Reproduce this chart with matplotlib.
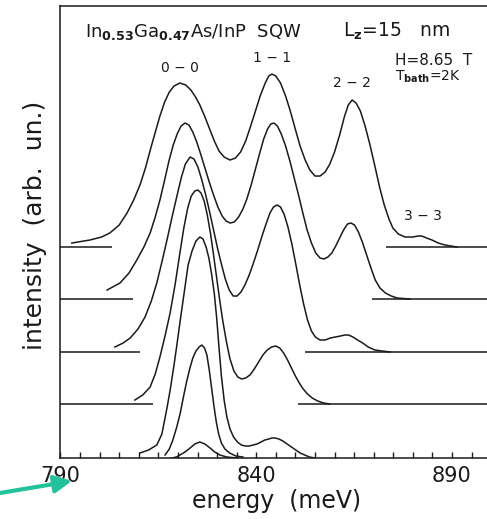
import numpy as np
import matplotlib
matplotlib.use('Agg')
import matplotlib.pyplot as plt

plt.rcParams['font.family'] = 'DejaVu Sans'
plt.rcParams['mathtext.fontset'] = 'custom'
plt.rcParams['mathtext.rm'] = 'DejaVu Sans'
plt.rcParams['mathtext.bf'] = 'DejaVu Sans:bold'

# spectra, top to bottom: energy (meV) and intensity above own baseline (arb.)
E1 = [792.9, 797.5, 800.5, 802.6, 805.0, 807.0, 808.7, 810.3, 811.7, 813.0, 814.3, 815.4,
      816.6, 817.8, 819.0, 820.5, 822.0, 823.3, 824.5, 825.6, 826.8, 828.0, 829.3, 830.5,
      831.8, 833.3, 834.7, 836.0, 837.3, 838.5, 839.8, 841.0, 842.3, 843.2, 844.0, 845.0,
      846.2, 847.5, 848.7, 849.9, 851.2, 852.5, 853.7, 855.0, 856.3, 857.6, 858.8, 860.0,
      861.3, 862.5, 863.5, 864.5, 865.5, 866.6, 867.8, 869.0, 870.3, 871.5, 872.7, 873.9,
      874.9, 876.3, 878.0, 880.0, 881.3, 882.3, 883.5, 884.9, 886.5, 888.2, 891.3]
H1 = [4, 7, 10, 14, 22, 34, 47, 62, 79, 98, 116, 131,
      145, 155, 161, 164, 162, 157, 150, 142, 131, 119, 106, 96,
      90, 87, 89, 95, 106, 120, 136, 151, 164, 171, 173, 171,
      164, 151, 136, 119, 101, 87, 77, 71, 71, 75, 83, 95,
      112, 130, 142, 147, 144, 136, 121, 103, 81, 60, 42, 28,
      19, 13, 10, 10, 11, 11, 9, 7, 4, 2, 0]

E2 = [801.9, 805.2, 807.5, 809.5, 811.3, 812.9, 814.2, 815.4, 816.6, 817.7, 818.8, 819.8,
      820.8, 821.8, 822.8, 823.8, 824.8, 825.8, 826.9, 828.0, 829.1, 830.2, 831.3, 832.3,
      833.3, 834.4, 835.5, 836.6, 837.6, 838.7, 839.8, 840.9, 841.9, 842.9, 843.7, 844.5,
      845.4, 846.4, 847.5, 848.6, 849.7, 850.8, 851.9, 853.0, 854.1, 855.2, 856.3, 857.3,
      858.3, 859.3, 860.3, 861.3, 862.3, 863.3, 864.2, 865.1, 866.1, 867.1, 868.2, 869.3,
      870.4, 871.6, 873.0, 874.5, 876.0, 879.3]
H2 = [9, 16, 26, 39, 52, 66, 82, 99, 119, 138, 154, 165,
      173, 176, 174, 167, 157, 145, 131, 117, 104, 92, 83, 78,
      76, 77, 82, 90, 100, 114, 130, 146, 160, 170, 175, 176,
      173, 165, 153, 138, 121, 104, 86, 69, 56, 46, 41, 40,
      42, 46, 53, 61, 69, 75, 76, 74, 67, 57, 44, 31,
      19, 11, 6, 3, 1, 0]

E3 = [803.9, 806.0, 807.8, 809.8, 811.6, 813.2, 814.6, 815.9, 817.2, 818.5, 819.8, 820.9,
      821.9, 823.1, 824.1, 825.1, 826.1, 827.1, 828.1, 829.1, 830.1, 831.1, 832.1, 833.1,
      834.1, 835.1, 836.1, 837.1, 838.1, 839.2, 840.3, 841.4, 842.5, 843.5, 844.4, 845.3,
      846.2, 847.1, 848.1, 849.1, 850.1, 851.1, 852.1, 853.1, 854.1, 855.1, 856.3, 857.6,
      858.9, 860.2, 861.5, 862.6, 863.6, 864.7, 865.9, 867.2, 868.6, 870.3, 872.2, 874.2]
H3 = [5, 9, 14, 23, 35, 51, 69, 90, 112, 135, 157, 175,
      188, 195, 193, 185, 172, 157, 140, 122, 104, 88, 73, 62,
      56, 56, 60, 67, 76, 88, 101, 115, 128, 139, 145, 147,
      145, 138, 125, 108, 88, 67, 48, 32, 21, 15, 12, 12,
      14, 15, 16, 17, 17, 15, 12, 9, 5, 2, 1, 0]

E4 = [809.0, 811.0, 812.9, 814.2, 815.4, 816.7, 818.0, 819.3, 820.5, 821.5, 822.5, 823.4,
      824.3, 825.1, 825.9, 826.7, 827.5, 828.3, 829.1, 829.9, 830.7, 831.5, 832.4, 833.3,
      834.3, 835.3, 836.3, 837.3, 838.4, 839.5, 840.6, 841.7, 842.8, 843.9, 845.0, 846.0,
      847.0, 848.0, 849.0, 850.0, 851.0, 852.0, 853.1, 854.3, 855.7, 857.2, 858.8]
H4 = [4, 9, 17, 30, 47, 68, 91, 120, 151, 176, 196, 208,
      213, 214, 211, 203, 189, 171, 149, 126, 103, 82, 62, 45,
      33, 27, 25, 26, 29, 35, 42, 49, 54, 57, 58, 56,
      51, 44, 36, 28, 21, 15, 10, 6, 3, 1, 0]

E5 = [810.3, 812.5, 814.6, 815.9, 817.2, 818.1, 819.0, 819.8, 820.6, 821.4, 821.8, 822.6,
      823.6, 824.6, 825.6, 826.4, 827.2, 827.9, 828.6, 829.3, 829.9, 830.5, 831.1, 831.8,
      832.5, 833.3, 834.2, 835.2, 836.2, 837.2, 838.2, 839.2, 840.2, 841.2, 842.2, 843.2,
      844.0, 844.8, 845.8, 846.8, 847.9, 849.0, 850.1, 851.2, 852.4, 853.6, 855.0]
H5 = [5, 8, 13, 24, 50, 70, 93, 115, 138, 160, 171, 193,
      207, 217, 221, 219, 211, 200, 184, 164, 140, 110, 82, 58,
      41, 29, 21, 16, 13, 12, 12, 13, 14, 16, 18, 19,
      20, 20, 19, 17, 14, 11, 8, 5, 3, 1, 0]

E6 = [816.7, 817.8, 818.7, 819.7, 820.6, 821.4, 822.2, 823.0, 823.8, 824.6, 825.4, 826.1,
      826.8, 827.4, 828.0, 828.6, 829.2, 829.8, 830.4, 831.1, 832.0, 833.2, 834.8, 836.6]
H6 = [3, 9, 18, 31, 45, 61, 76, 89, 100, 107, 111, 113,
      110, 103, 88, 70, 52, 36, 24, 15, 9, 5, 2, 1]

E7 = [818.5, 819.6, 820.5, 821.8, 823.1, 824.3, 825.6, 826.9, 828.2, 829.4, 830.7, 832.5, 835.1]
H7 = [0, 1, 3, 6, 10, 14, 16, 14, 10, 6, 3, 1, 0]

offsets = [211, 159, 106, 54, 0, 0, 0]

# baseline segments for the four shifted spectra
base_left_end = [803.2, 808.5, 810.3, 813.6]
base_right_start = [873.1, 869.6, 852.4, 850.7]

peak_labels = ['0 − 0', '1 − 1', '2 − 2', '3 − 3']
peak_label_x = [820.5, 844.0, 864.5, 882.6]
peak_label_y = [386, 396, 371, 238]

ink = '#1a1a1a'

fig = plt.figure(figsize=(4.87, 5.19), dpi=100)
ax = fig.add_axes([0.1242, 0.1175, 0.9245, 0.8709])

curves = [(E1, H1), (E2, H2), (E3, H3), (E4, H4), (E5, H5), (E6, H6), (E7, H7)]
for (e, h), off in zip(curves, offsets):
    ax.plot(e, np.array(h) + off, color=ink, lw=1.1)

for off, le, rs in zip(offsets[:4], base_left_end, base_right_start):
    ax.hlines(off, 790, le, color=ink, lw=1.1)
    ax.hlines(off, rs, 905, color=ink, lw=1.1)

for lab, x, y in zip(peak_labels, peak_label_x, peak_label_y):
    ax.text(x, y, lab, ha='center', va='baseline', fontsize=10, color=ink)

ax.text(796.3, 421, r'In$_{\mathbf{0.53}}$Ga$_{\mathbf{0.47}}$As/InP  SQW',
        fontsize=13, color=ink, va='baseline')
ax.text(862.1, 421, r'L$_{\mathbf{z}}$=15   nm', fontsize=13.5, color=ink, va='baseline')
ax.text(875.4, 393, 'H=8.65  T', fontsize=11, color=ink, va='baseline')
ax.text(875.4, 377, r'T$_{\mathbf{bath}}$=2K', fontsize=10, color=ink, va='baseline')

ax.set_xlim(790, 905)
ax.set_ylim(0, 452)
ax.set_xticks([790, 840, 890])
ax.set_xticks(np.arange(790, 905, 5), minor=True)
ax.set_yticks([])
ax.tick_params(axis='x', which='both', direction='in', length=4, width=1, colors=ink,
               labelsize=15, pad=6)
for s in ax.spines.values():
    s.set_color(ink)
    s.set_linewidth(1.1)
ax.spines['right'].set_visible(False)

ax.set_xlabel('energy  (meV)', fontsize=17, color=ink)
ax.xaxis.set_label_coords(0.481, -0.068)
ax.set_ylabel('intensity  (arb.  un.)', fontsize=18, color=ink)
ax.yaxis.set_label_coords(-0.03, 0.515)

ax.annotate('', xy=(72, 38), xycoords='figure pixels', xytext=(0, 26),
            textcoords='figure pixels',
            arrowprops=dict(arrowstyle='-|>', color='#22c39a', lw=3,
                            mutation_scale=26, shrinkA=0, shrinkB=0))

plt.savefig('out.png', dpi=100)
